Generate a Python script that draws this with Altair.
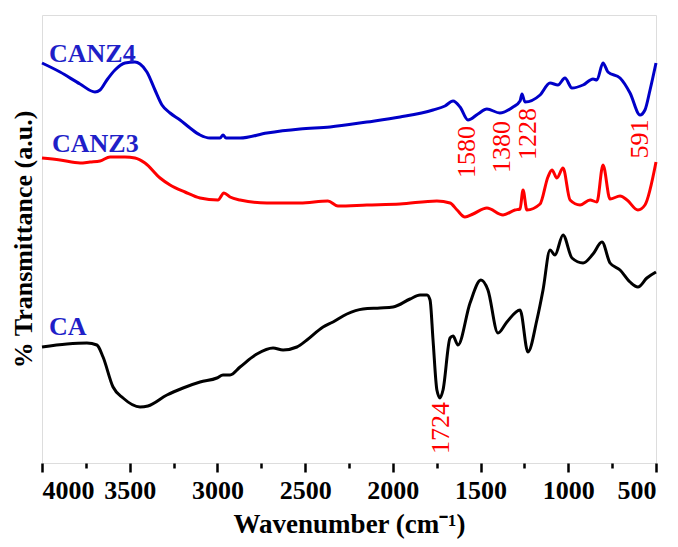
import altair as alt
import pandas as pd

# ---- data (wavenumber cm^-1, transmittance a.u.) ----
canz4_w = [4000, 3897, 3783, 3698, 3669, 3630, 3584, 3527, 3470, 3441, 3402, 3356, 3316, 3270,
           3213, 3156, 3099, 3042, 2985, 2968, 2951, 2871, 2718, 2529, 2358, 2148, 1959, 1771,
           1703, 1657, 1617, 1572, 1515, 1464, 1390, 1315, 1275, 1264, 1247, 1161, 1104, 1059,
           1019, 979, 916, 859, 837, 802, 774, 705, 648, 591, 563, 534, 500]
canz4_t = [400, 391, 379, 371, 373, 383, 393, 400, 401, 399, 391, 373, 358, 350,
           343, 335, 328, 325, 325, 328, 325, 325, 330, 334, 336, 341, 346, 353,
           357, 362, 356, 343, 349, 354, 350, 356, 362, 369, 361, 368, 380, 378,
           385, 375, 378, 384, 383, 400, 391, 385, 370, 348, 353, 373, 400]

canz3_w = [4000, 3897, 3783, 3726, 3669, 3612, 3527, 3470, 3413, 3327, 3270, 3185, 3099, 2997,
           2963, 2928, 2871, 2718, 2529, 2370, 2313, 2148, 1959, 1749, 1674, 1634, 1589, 1543,
           1464, 1372, 1304, 1275, 1258, 1236, 1161, 1116, 1093, 1065, 1030, 990, 933, 876,
           837, 802, 762, 705, 665, 603, 563, 500]
canz3_t = [305, 303, 300, 301, 302, 306, 306, 305, 300, 285, 278, 271, 265, 263,
           270, 266, 263, 260, 260, 262, 257, 258, 259, 262, 260, 253, 246, 249,
           255, 248, 253, 254, 273, 253, 259, 286, 293, 285, 295, 263, 258, 263,
           261, 298, 264, 267, 263, 253, 258, 301]

ca_w = [4000, 3858, 3744, 3687, 3652, 3595, 3538, 3441, 3396, 3288, 3196, 3099, 3003, 2968,
        2928, 2871, 2775, 2683, 2626, 2547, 2490, 2398, 2341, 2262, 2170, 2073, 1999, 1902,
        1845, 1805, 1788, 1771, 1749, 1731, 1714, 1674, 1657, 1629, 1560, 1498, 1458, 1401,
        1350, 1275, 1230, 1179, 1144, 1104, 1076, 1030, 979, 916, 859, 808, 762, 705,
        648, 603, 552, 500]
ca_t = [116, 119, 120, 118, 106, 76, 65, 56, 57, 68, 75, 81, 85, 88,
        88, 96, 109, 115, 113, 116, 123, 136, 141, 149, 154, 155, 156, 164,
        168, 168, 163, 123, 73, 65, 73, 125, 127, 118, 160, 183, 173, 130,
        141, 153, 111, 143, 173, 213, 208, 228, 205, 200, 209, 221, 200, 193,
        181, 176, 185, 191]

series_names = ["CANZ4", "CANZ3", "CA"]
series_colors = ["#0000c8", "#ff0000", "#000000"]

peak_labels = ["1580", "1380", "1228", "591", "1724"]
peak_w = [1580, 1380, 1228, 591, 1724]
peak_t = [311, 316, 329, 324, 35]

curve_labels = ["CANZ4", "CANZ3", "CA"]
curve_label_w = [3960, 3943, 3960]
curve_label_t = [401, 311, 128]

x_ticks = list(range(4000, 499, -250))

# ---- tables ----
rows = []
for name, ws, ts in [("CANZ4", canz4_w, canz4_t), ("CANZ3", canz3_w, canz3_t), ("CA", ca_w, ca_t)]:
    for i, (w, t) in enumerate(zip(ws, ts)):
        rows.append({"series": name, "w": w, "t": t, "i": i})
df = pd.DataFrame(rows)
peaks = pd.DataFrame({"label": peak_labels, "w": peak_w, "t": peak_t})
names = pd.DataFrame({"label": curve_labels, "w": curve_label_w, "t": curve_label_t})

FONT = "Liberation Serif"

x_enc = alt.X(
    "w:Q",
    scale=alt.Scale(domain=[500, 4000], reverse=True, nice=False, zero=False),
    axis=alt.Axis(
        values=x_ticks,
        labelExpr="datum.value % 500 === 0 ? datum.label : ''",
        labelOverlap=False,
        format="d",
        tickSize={"condition": {"test": "datum.value % 500 === 0", "value": 9}, "value": 5},
        tickWidth=2.5,
        tickColor="black",
        domain=False,
        grid=False,
        labelFont=FONT,
        labelFontSize=26,
        labelFontWeight="bold",
        labelColor="black",
        labelPadding=5,
        title="Wavenumber (cm⁻¹)",
        titleFont=FONT,
        titleFontSize=27,
        titleFontWeight="bold",
        titleColor="black",
        titlePadding=8,
    ),
)
y_enc = alt.Y(
    "t:Q",
    scale=alt.Scale(domain=[0, 448], nice=False, zero=False),
    axis=alt.Axis(
        ticks=False,
        labels=False,
        domain=False,
        grid=False,
        title="% Transmittance (a.u.)",
        titleFont=FONT,
        titleFontSize=26,
        titleFontWeight="bold",
        titleColor="black",
        titlePadding=6,
    ),
)

lines = alt.Chart(df).mark_line(strokeWidth=3, interpolate="monotone").encode(
    x=x_enc,
    y=y_enc,
    color=alt.Color("series:N", scale=alt.Scale(domain=series_names, range=series_colors), legend=None),
    order="i:Q",
    detail="series:N",
)

peak_text = alt.Chart(peaks).mark_text(
    angle=270, align="center", baseline="middle", font=FONT, fontSize=26, color="#ff0000"
).encode(x="w:Q", y="t:Q", text="label:N")

name_text = alt.Chart(names).mark_text(
    align="left", baseline="alphabetic", font=FONT, fontSize=26, fontWeight="bold", color="#1f1fc8"
).encode(x="w:Q", y="t:Q", text="label:N")

chart = (
    alt.layer(lines, peak_text, name_text)
    .properties(
        width=614,
        height=448,
        autosize=alt.AutoSizeParams(type="none"),
        padding={"left": 34, "top": 7, "right": 14, "bottom": 76},
    )
    .configure_view(stroke="black", strokeWidth=2.5)
    .configure(background="white")
)

chart.save("out.html", embed_options={"renderer": "svg", "actions": False})
